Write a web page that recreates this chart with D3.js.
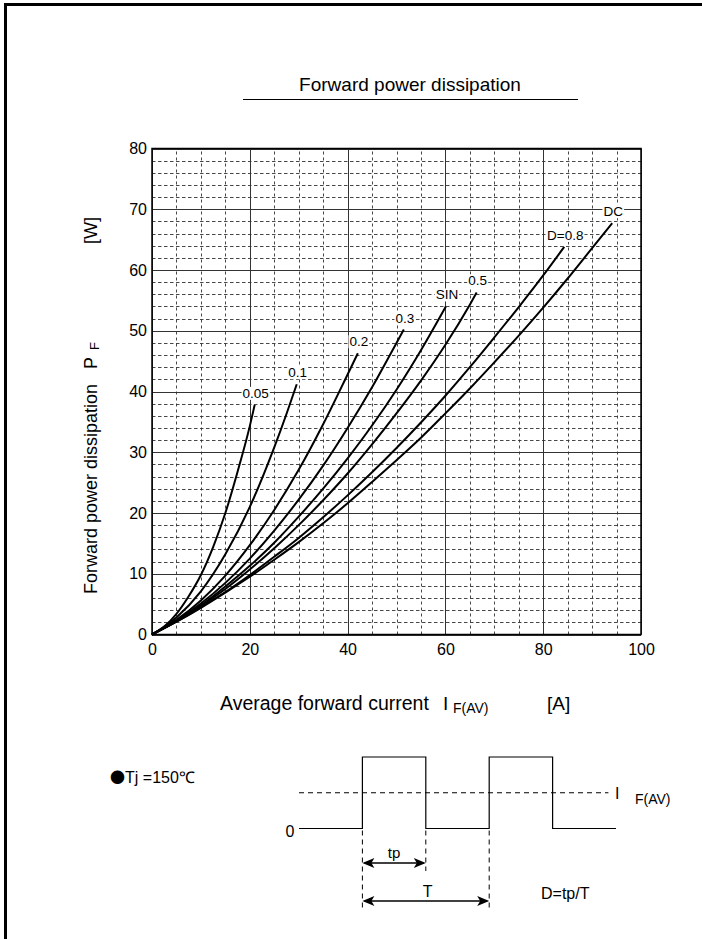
<!DOCTYPE html>
<html>
<head>
<meta charset="utf-8">
<script src="https://cdn.jsdelivr.net/npm/d3@7"></script>
<style>
  body { margin: 0; background: #fff; }
  text { font-family: "Liberation Sans", Arial, sans-serif; fill: #000; }
</style>
</head>
<body>
<svg id="chart" width="702" height="939"></svg>
<script>
// tick values
var xTicks = [0, 20, 40, 60, 80, 100];
var yTicks = [0, 10, 20, 30, 40, 50, 60, 70, 80];

// curve labels, in drawing order
var curveLabels = ['0.05', '0.1', '0.2', '0.3', 'SIN', '0.5', 'D=0.8', 'DC'];

// [IF(AV) A, PF W]
var d005 = [[0, 0], [2.5, 1.3], [5, 3.4], [7.5, 6.3], [10, 9.8], [12.5, 14.4], [15, 20.0], [17.5, 26.8], [20, 34.3], [21, 37.8]];
var d01 = [[0, 0], [5, 2.8], [10, 7.1], [15, 13.2], [20, 21.0], [25, 30.8], [27.5, 36.3], [29.6, 41.2]];
var d02 = [[0, 0], [5, 2.4], [10, 5.6], [15, 9.7], [20, 14.7], [25, 20.5], [30, 27.1], [35, 34.6], [40, 42.8], [42.1, 46.3]];
var d03 = [[0, 0], [5, 2.3], [10, 5.1], [15, 8.5], [20, 12.5], [25, 17.1], [30, 22.2], [35, 27.8], [40, 34.0], [45, 40.7], [50, 48.0], [51.5, 50.2]];
var dSin = [[0, 0], [5, 2.2], [10, 4.8], [15, 7.9], [20, 11.3], [25, 15.1], [30, 19.4], [35, 24.0], [40, 29.0], [45, 34.4], [50, 40.3], [55, 46.8], [60.1, 54.0]];
var d05 = [[0, 0], [5, 2.2], [10, 4.7], [15, 7.5], [20, 10.7], [25, 14.2], [30, 18.0], [35, 22.1], [40, 26.5], [45, 31.3], [50, 36.4], [55, 41.8], [60, 47.7], [65, 54.3], [66.4, 56.3]];
var d08 = [[0, 0], [5, 2.1], [10, 4.5], [15, 7.0], [20, 9.8], [25, 12.8], [30, 15.9], [35, 19.3], [40, 22.9], [45, 26.7], [50, 30.7], [55, 34.9], [60, 39.3], [65, 44.0], [70, 48.9], [75, 53.9], [80, 59.1], [84.3, 63.8]];
var dDC = [[0, 0], [5, 2.1], [10, 4.4], [15, 6.9], [20, 9.5], [25, 12.3], [30, 15.2], [35, 18.3], [40, 21.6], [45, 25.1], [50, 28.7], [55, 32.4], [60, 36.4], [65, 40.5], [70, 44.8], [75, 49.2], [80, 53.8], [85, 58.6], [90, 63.6], [94.1, 67.7]];

var curveData = [d005, d01, d02, d03, dSin, d05, d08, dDC];

// waveform sketch: time in half-periods, level 0..1
var wavePoints = [[0, 0], [1, 0], [1, 1], [2, 1], [2, 0], [3, 0], [3, 1], [4, 1], [4, 0], [5, 0]];
var waveAverage = 0.5;

var svg = d3.select('#chart');

var x = d3.scaleLinear().domain([0, 100]).range([152, 641]);
var y = d3.scaleLinear().domain([0, 80]).range([634.5, 148.5]);

// page frame (left and top edges)
svg.append('path')
  .attr('d', 'M5.5,939V4.5H702')
  .attr('fill', 'none')
  .attr('stroke', '#000')
  .attr('stroke-width', 3);

// title
svg.append('text')
  .attr('x', 410).attr('y', 91)
  .attr('text-anchor', 'middle')
  .style('font-size', '19px')
  .text('Forward power dissipation');
svg.append('line')
  .attr('x1', 243).attr('x2', 578)
  .attr('y1', 99.5).attr('y2', 99.5)
  .attr('stroke', '#000').attr('stroke-width', 1);

// grid
var grid = svg.append('g').attr('class', 'grid');

var xMinor = d3.range(5, 100, 5).filter(function(v) { return v % 20 !== 0; });
var yMinor = d3.range(2, 80, 2).filter(function(v) { return v % 10 !== 0; });

grid.selectAll('line.xminor')
  .data(xMinor).enter().append('line')
  .attr('class', 'xminor')
  .attr('x1', function(d) { return Math.round(x(d)) + 0.5; })
  .attr('x2', function(d) { return Math.round(x(d)) + 0.5; })
  .attr('y1', y(0)).attr('y2', y(80))
  .attr('stroke', '#333').attr('stroke-width', 0.9)
  .attr('stroke-dasharray', '3,3');

grid.selectAll('line.yminor')
  .data(yMinor).enter().append('line')
  .attr('class', 'yminor')
  .attr('x1', x(0)).attr('x2', x(100))
  .attr('y1', function(d) { return Math.round(y(d)) + 0.5; })
  .attr('y2', function(d) { return Math.round(y(d)) + 0.5; })
  .attr('stroke', '#333').attr('stroke-width', 0.9)
  .attr('stroke-dasharray', '3.5,2.5');

grid.selectAll('line.xmajor')
  .data(xTicks).enter().append('line')
  .attr('class', 'xmajor')
  .attr('x1', function(d) { return Math.round(x(d)) + 0.5; })
  .attr('x2', function(d) { return Math.round(x(d)) + 0.5; })
  .attr('y1', y(0)).attr('y2', y(80))
  .attr('stroke', '#333').attr('stroke-width', 1);

grid.selectAll('line.ymajor')
  .data(yTicks).enter().append('line')
  .attr('class', 'ymajor')
  .attr('x1', x(0)).attr('x2', x(100))
  .attr('y1', function(d) { return Math.round(y(d)) + 0.5; })
  .attr('y2', function(d) { return Math.round(y(d)) + 0.5; })
  .attr('stroke', '#333').attr('stroke-width', 1);

svg.append('rect')
  .attr('x', x(0)).attr('y', y(80))
  .attr('width', x(100) - x(0)).attr('height', y(0) - y(80))
  .attr('fill', 'none').attr('stroke', '#000').attr('stroke-width', 1.5);

// axes (labels only)
var xAxis = svg.append('g')
  .attr('transform', 'translate(0,' + y(0) + ')')
  .call(d3.axisBottom(x).tickValues(xTicks).tickSize(0).tickPadding(9));
var yAxis = svg.append('g')
  .attr('transform', 'translate(' + x(0) + ',0)')
  .call(d3.axisLeft(y).tickValues(yTicks).tickSize(0).tickPadding(5));
[xAxis, yAxis].forEach(function(a) {
  a.select('.domain').remove();
  a.selectAll('text')
    .style('font-family', '"Liberation Sans", Arial, sans-serif')
    .style('font-size', '16px')
    .attr('fill', '#000');
});

// curves
var line = d3.line()
  .x(function(d) { return x(d[0]); })
  .y(function(d) { return y(d[1]); })
  .curve(d3.curveMonotoneX);

svg.append('g').selectAll('path')
  .data(curveData).enter().append('path')
  .attr('d', line)
  .attr('fill', 'none')
  .attr('stroke', '#000')
  .attr('stroke-width', 2);

// curve labels sit just above each curve's end, on a white patch
var labels = svg.append('g');
curveData.forEach(function(data, i) {
  var end = data[data.length - 1];
  var g = labels.append('g');
  var t = g.append('text')
    .attr('x', x(end[0]) + 1)
    .attr('y', y(end[1]) - 7)
    .attr('text-anchor', 'middle')
    .style('font-size', '13.5px')
    .text(curveLabels[i]);
  var b = t.node().getBBox();
  g.insert('rect', 'text')
    .attr('x', b.x - 1).attr('y', b.y + 1)
    .attr('width', b.width + 2).attr('height', b.height - 2)
    .attr('fill', '#fff');
});

// y axis title
var yt = svg.append('g').attr('transform', 'translate(97,0) rotate(-90)');
yt.append('text').attr('x', -594).attr('y', 0).style('font-size', '18px').text('Forward power dissipation');
yt.append('text').attr('x', -369).attr('y', 0).style('font-size', '18px').text('P');
yt.append('text').attr('x', -350).attr('y', 2).style('font-size', '13px').text('F');
yt.append('text').attr('x', -244).attr('y', 0).style('font-size', '18px').text('[W]');

// x axis title
var xt = svg.append('g');
xt.append('text').attr('x', 220).attr('y', 710).style('font-size', '19.5px').text('Average forward current');
xt.append('text').attr('x', 443).attr('y', 710).style('font-size', '19px').text('I');
xt.append('text').attr('x', 453).attr('y', 713).style('font-size', '14px').text('F(AV)');
xt.append('text').attr('x', 547).attr('y', 710).style('font-size', '19px').text('[A]');

// condition note
var note = svg.append('text').attr('x', 110).attr('y', 783).style('font-size', '16px');
note.append('tspan').style('font-family', '"Noto Sans CJK JP", sans-serif').style('font-size', '15px').text('●');
note.append('tspan').text('Tj =150℃');

// waveform sketch
var t = d3.scaleLinear().domain([0, 5]).range([299, 616]);
var lv = d3.scaleLinear().domain([0, 1]).range([828.5, 757]);
var wave = svg.append('g');

wave.append('path')
  .attr('d', d3.line().x(function(d) { return t(d[0]); }).y(function(d) { return lv(d[1]); })(wavePoints))
  .attr('fill', 'none').attr('stroke', '#000').attr('stroke-width', 1.2);

wave.append('line')
  .attr('x1', t(0)).attr('x2', t(4.88))
  .attr('y1', lv(waveAverage)).attr('y2', lv(waveAverage))
  .attr('stroke', '#000').attr('stroke-width', 1).attr('stroke-dasharray', '5,4');

var guides = [[1, 911], [2, 871], [3, 911]];
wave.selectAll('line.guide')
  .data(guides).enter().append('line')
  .attr('class', 'guide')
  .attr('x1', function(d) { return t(d[0]); })
  .attr('x2', function(d) { return t(d[0]); })
  .attr('y1', lv(0) + 2).attr('y2', function(d) { return d[1]; })
  .attr('stroke', '#000').attr('stroke-width', 1).attr('stroke-dasharray', '5,4');

function arrow(x1, x2, yy) {
  var g = wave.append('g');
  g.append('line').attr('x1', x1 + 2).attr('x2', x2 - 2).attr('y1', yy).attr('y2', yy)
    .attr('stroke', '#000').attr('stroke-width', 1.4);
  g.append('path').attr('d', 'M' + x1 + ',' + yy + 'l12,-5l-3,5l3,5z').attr('fill', '#000');
  g.append('path').attr('d', 'M' + x2 + ',' + yy + 'l-12,-5l3,5l-3,5z').attr('fill', '#000');
}
arrow(t(1), t(2), 863);
arrow(t(1), t(3), 901);

wave.append('text').attr('x', t(1.5)).attr('y', 858).attr('text-anchor', 'middle').style('font-size', '15px').text('tp');
wave.append('text').attr('x', t(2.03)).attr('y', 897).attr('text-anchor', 'middle').style('font-size', '16px').text('T');
wave.append('text').attr('x', 541).attr('y', 899).style('font-size', '16px').text('D=tp/T');
wave.append('text').attr('x', 290).attr('y', 837).attr('text-anchor', 'middle').style('font-size', '16px').text('0');
wave.append('text').attr('x', 615).attr('y', 799).style('font-size', '16px').text('I');
wave.append('text').attr('x', 635).attr('y', 804).style('font-size', '14px').text('F(AV)');
</script>
</body>
</html>
